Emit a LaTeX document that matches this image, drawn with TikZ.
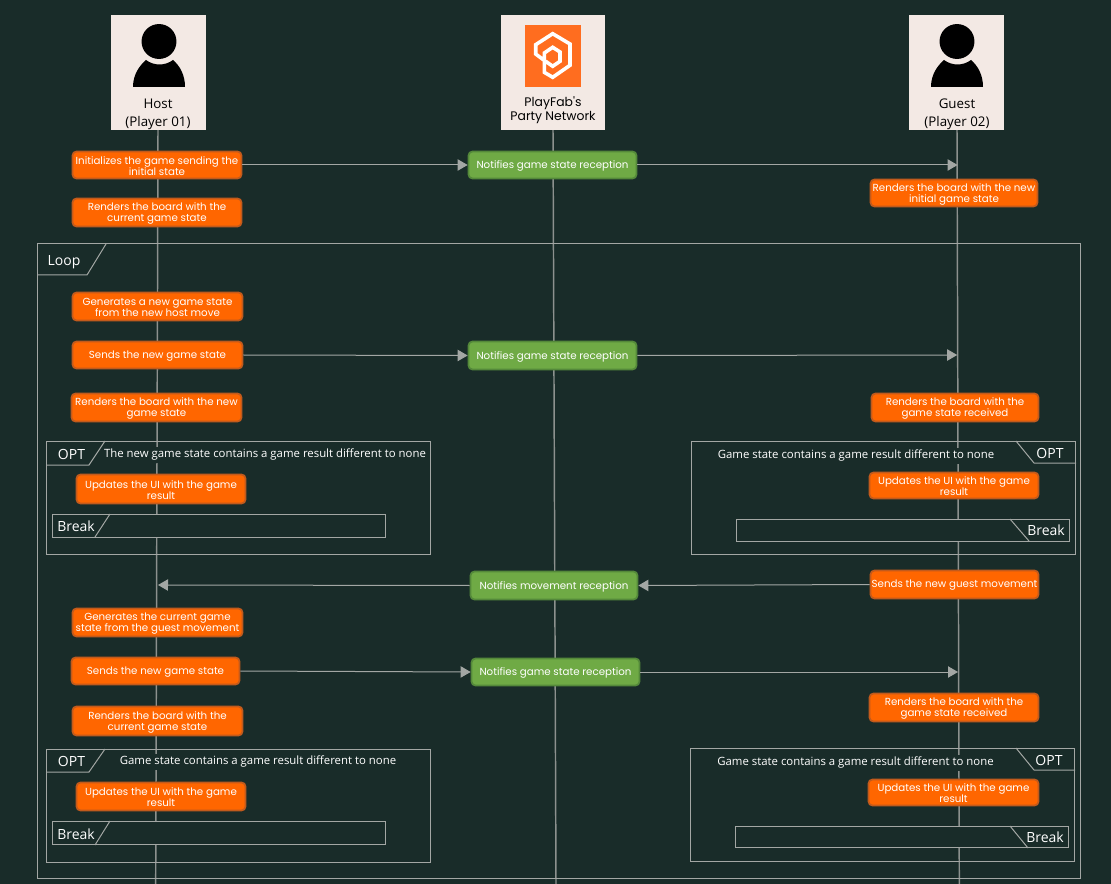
\documentclass[tikz,border=0pt]{standalone}
\usepackage{fontspec}
\setmainfont{Open Sans}
\newfontfamily\stepfont{Poppins}
\usetikzlibrary{arrows.meta}
\definecolor{bgc}{HTML}{192C29}
\definecolor{linec}{HTML}{8C918E}
\definecolor{framec}{HTML}{A3A7A4}
\definecolor{actorc}{HTML}{F3E9E4}
\definecolor{orangec}{HTML}{FF6600}
\definecolor{orangeb}{HTML}{C25A1C}
\definecolor{greenc}{HTML}{6FAA45}
\definecolor{greenb}{HTML}{54893A}
\definecolor{logoc}{HTML}{FF6D1F}
\newcommand{\pxs}[2]{\fontsize{#1pt}{#2pt}\selectfont}
\tikzset{
  x=0.75pt,y=-0.75pt,
  lifeline/.style={draw=linec,line width=1.1pt},
  msg/.style={draw=framec,line width=0.75pt,-{Triangle[length=7.5pt,width=8.5pt,fill=framec]}},
  frameline/.style={draw=framec,line width=0.75pt},
  actorbox/.style={fill=actorc,draw=none,inner sep=0pt},
  orangestep/.style={fill=orangec,draw=orangeb,line width=1.3pt,rounded corners=3pt,inner sep=0pt},
  greenstep/.style={fill=greenc,draw=greenb,line width=1.3pt,rounded corners=3pt,inner sep=0pt},
  steptext/.style={inner sep=0pt,align=center,text=white,font=\stepfont\pxs{7.7}{8.25}},
  framebox/.style={frameline,inner sep=0pt},
  filledframe/.style={frameline,fill=bgc,inner sep=0pt},
  tabtext/.style={text=white,inner sep=0pt,font=\pxs{10.5}{12}},
  condtext/.style={text=white,fill=bgc,inner xsep=1pt,inner ysep=2pt,font=\pxs{8.54}{10}},
  actortext/.style={text=black,inner sep=0pt,align=center,font=\pxs{10}{13.5}},
  logotext/.style={text=black,inner sep=0pt,align=center,font=\stepfont\pxs{9.3}{10.5}},
}
\newcommand{\bx}[6]{%
  \pgfmathsetmacro\cxv{(#3+#5)/2-0.5}\pgfmathsetmacro\cyv{(#4+#6)/2-0.5}%
  \pgfmathsetmacro\wv{(#5-#3-1)*0.75}\pgfmathsetmacro\hv{(#6-#4-1)*0.75}%
  \node[#1,minimum width=\wv pt,minimum height=\hv pt] (#2) at (\cxv,\cyv) {};}
\newcommand{\stp}[7]{%
  \pgfmathsetmacro\cxv{(#3+#5)/2}\pgfmathsetmacro\cyv{(#4+#6)/2}%
  \pgfmathsetmacro\wv{(#5-#3-1)*0.75}\pgfmathsetmacro\hv{(#6-#4-1)*0.75}%
  \node[#1,minimum width=\wv pt,minimum height=\hv pt] (#2) at (\cxv,\cyv) {};
  \node[steptext] (#2text) at (\cxv,\cyv+1) {#7};}
\newcommand{\person}[1]{%
  \begin{scope}[shift={(#1,0)}]
    \fill[black] (159,41.5) circle[radius=13.1pt];
    \fill[black] (133,87) .. controls (133,75) and (139,66) .. (146,60)
      .. controls (154,66) and (165,66) .. (173,60)
      .. controls (180,66) and (185,75) .. (185,87) -- cycle;
  \end{scope}}
\begin{document}
\begin{tikzpicture}
\useasboundingbox (0,0) rectangle (1111,884);
\fill[bgc] (0,0) rectangle (1111,884);
% end points of the lifelines
\coordinate (hostend) at (155.7,884);
\coordinate (netend) at (556,884);
\coordinate (guestend) at (959.3,884);
\coordinate (hosttop) at (158,130);
\coordinate (nettop) at (553,130);
\coordinate (guesttop) at (957,130);
\draw[lifeline] (hosttop) -- (hostend);
\draw[lifeline] (nettop) -- (netend);
\draw[lifeline] (guesttop) -- (guestend);
% actors
\bx{actorbox}{host}{111}{15}{207}{131}
\bx{actorbox}{net}{501}{15}{606}{131}
\bx{actorbox}{guest}{909}{15}{1005}{131}
\person{0}
\person{798}
\node[actortext] (hostlabel) at (158,114) {Host\\(Player 01)};
\node[actortext] (guestlabel) at (957,114) {Guest\\(Player 02)};
\fill[logoc] (525,25) rectangle (580.5,87);
\draw[white,line width=2.7pt,line join=miter] (543.3,59.7) -- (535.7,54) -- (535.7,44.7) -- (552.7,33.7) -- (570,44) -- (570,65.3) -- (552.7,77.3) -- (544.3,72.3) -- (544.3,53) -- (552.7,47.3) -- (560,52) -- (560,61.3) -- (552.7,66.3) -- (545.7,61.3);
\node[logotext] (netlabel) at (553,110) {PlayFab's\\Party Network};
% frames
\bx{framebox}{loop}{37}{244}{1081}{879}
\draw[frameline] (37,275) -- (87,275) -- (106,244);
\node[tabtext] (looplabel) at (64,262) {Loop};
% upper left OPT
\bx{framebox}{optA}{46}{441}{431}{555}
\draw[frameline] (46,465) -- (89,465) -- (105,441);
\node[tabtext] (optAl) at (71.5,454) {OPT};
\node[condtext] (optAt) at (265,455) {The new game state contains a game result different to none};
\bx{filledframe}{brA}{52}{514}{386}{538}
\draw[frameline] (95,537) -- (110,514);
\node[tabtext] (brAl) at (76,526) {Break};
% upper right OPT
\bx{framebox}{optB}{691}{441}{1076}{555}
\draw[frameline] (1016,441) -- (1034,463) -- (1076,463);
\node[tabtext] (optBl) at (1050,453) {OPT};
\node[condtext] (optBt) at (856,456) {Game state contains a game result different to none};
\bx{filledframe}{brB}{736}{519}{1070}{542}
\draw[frameline] (1010,519) -- (1029,541);
\node[tabtext] (brBl) at (1046,530) {Break};
% lower left OPT
\bx{framebox}{optC}{46}{749}{431}{863}
\draw[frameline] (46,772) -- (89,772) -- (105,749);
\node[tabtext] (optCl) at (71.5,761) {OPT};
\node[condtext] (optCt) at (258,762) {Game state contains a game result different to none};
\bx{filledframe}{brC}{52}{821}{386}{845}
\draw[frameline] (95,845) -- (110,821);
\node[tabtext] (brCl) at (76,834) {Break};
% lower right OPT
\bx{framebox}{optD}{690}{748}{1075}{862}
\draw[frameline] (1016,748) -- (1034,770) -- (1075,770);
\node[tabtext] (optDl) at (1049,760) {OPT};
\node[condtext] (optDt) at (855.5,763) {Game state contains a game result different to none};
\bx{filledframe}{brD}{735}{826}{1069}{848}
\draw[frameline] (1010,826) -- (1028,848);
\node[tabtext] (brDl) at (1045,837) {Break};
% steps
\stp{orangestep}{a1}{72}{151}{242}{179}{Initializes the game sending the\\initial state}
\stp{orangestep}{a2}{72}{198}{242}{227}{Renders the board with the\\current game state}
\stp{greenstep}{n1}{468}{151}{637}{179}{Notifies game state reception}
\stp{orangestep}{g1}{870}{179}{1038}{207}{Renders the board with the new\\initial game state}
\stp{orangestep}{a3}{72}{292}{243}{321}{Generates a new game state\\from the new host move}
\stp{orangestep}{a4}{72}{341}{243}{369}{Sends the new game state}
\stp{greenstep}{n2}{468}{341}{637}{370}{Notifies game state reception}
\stp{orangestep}{a5}{71}{393}{242}{422}{Renders the board with the new\\game state}
\stp{orangestep}{g2}{871}{393}{1039}{422}{Renders the board with the\\game state received}
\stp{orangestep}{a6}{76}{474}{246}{504}{Updates the UI with the game\\result}
\stp{orangestep}{g3}{869}{472}{1039}{499}{Updates the UI with the game\\result}
\stp{greenstep}{n3}{470}{571}{638}{600}{Notifies movement reception}
\stp{orangestep}{g4}{870}{570}{1039}{599}{Sends the new guest movement}
\stp{orangestep}{a7}{72}{608}{243}{637}{Generates the current game\\state from the guest movement}
\stp{orangestep}{a8}{71}{657}{240}{685}{Sends the new game state}
\stp{greenstep}{n4}{471}{658}{640}{686}{Notifies game state reception}
\stp{orangestep}{g5}{869}{693}{1039}{722}{Renders the board with the\\game state received}
\stp{orangestep}{a9}{72}{706}{243}{736}{Renders the board with the\\current game state}
\stp{orangestep}{a10}{76}{782}{246}{811}{Updates the UI with the game\\result}
\stp{orangestep}{g6}{868}{779}{1039}{806}{Updates the UI with the game\\result}
% message end points on lifelines
\coordinate (m1) at (957.6,165);
\coordinate (m2) at (957.2,355);
\coordinate (m3) at (158,585);
\coordinate (m4) at (958,672);
% messages
\draw[msg] (a1.east) -- (n1.west);
\draw[msg] (n1.east) -- (m1);
\draw[msg] (a4.east) -- (n2.west);
\draw[msg] (n2.east) -- (m2);
\draw[msg] (g4.west) -- (n3.east);
\draw[msg] (n3.west) -- (m3);
\draw[msg] (a8.east) -- (n4.west);
\draw[msg] (n4.east) -- (m4);
\end{tikzpicture}
\end{document}
